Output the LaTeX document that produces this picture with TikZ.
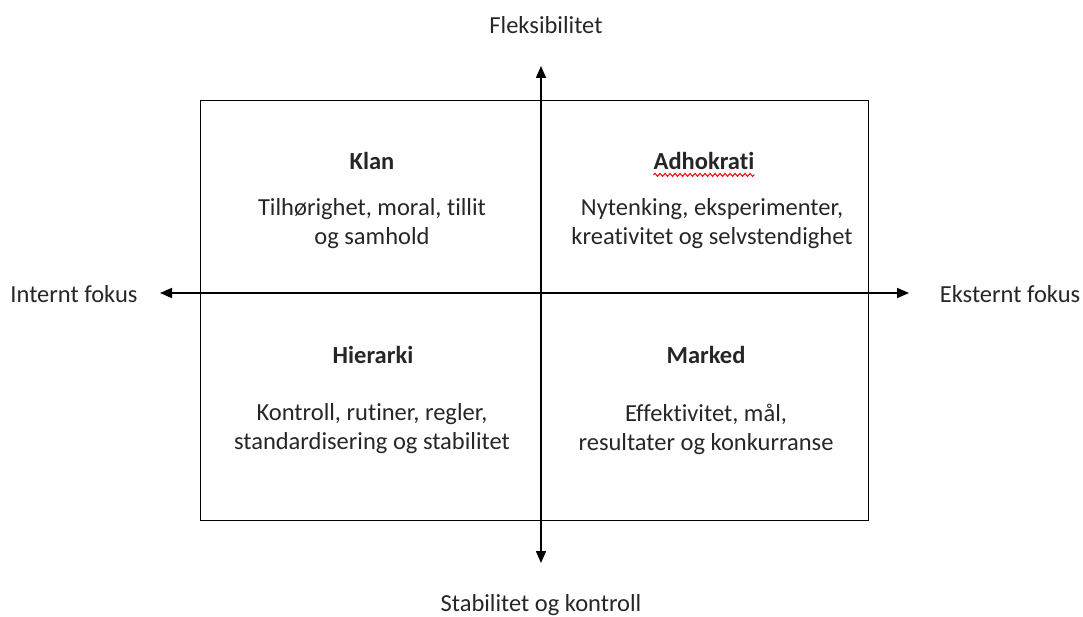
\documentclass[tikz,border=0pt]{standalone}
\usepackage{fontspec}
\setmainfont[Ligatures=NoCommon]{Carlito}
\usetikzlibrary{arrows.meta,decorations.pathmorphing}
\begin{document}
\begin{tikzpicture}[x=1pt,y=-1pt,
  lbl/.style={font=\fontsize{24.5}{29}\selectfont, inner sep=0pt, align=center, text=black!85},
  ttl/.style={lbl, font=\fontsize{24.5}{29}\selectfont\bfseries},
  axis/.style={line width=1.6pt, -{Triangle[length=12pt,width=10pt]}}]
\useasboundingbox (0,0) rectangle (1083,617);
\node[draw, line width=1.3pt, minimum width=668pt, minimum height=420pt, anchor=north west, inner sep=0pt] (box) at (200,100) {};
\coordinate (c) at (541,293);
\coordinate (top) at (541,66);
\coordinate (bot) at (541,563);
\coordinate (lft) at (160,293);
\coordinate (rgt) at (909,293);
\draw[axis] (c) -- (top);
\draw[axis] (c) -- (bot);
\draw[axis] (c) -- (lft);
\draw[axis] (c) -- (rgt);
\node[lbl] (flex) at (546,25) {Fleksibilitet};
\node[lbl] (stab) at (541,605) {Stabilitet og kontroll};
\node[lbl] (int) at (74,294) {Internt fokus};
\node[lbl] (ext) at (1010,294) {Eksternt fokus};
\node[ttl] (klan) at (372,161) {Klan};
\node[lbl] (klant) at (372,224) {Tilhørighet, moral, tillit\\og samhold};
\node[ttl] (adh) at (704,161) {Adhokrati};
\draw[red, line width=1pt, decorate, decoration={snake, amplitude=1.5pt, segment length=5pt}] ([yshift=-5pt]adh.south west) -- ([yshift=-5pt]adh.south east);
\node[lbl] (adht) at (712,224) {Nytenking, eksperimenter,\\kreativitet og selvstendighet};
\node[ttl] (hier) at (373,355) {Hierarki};
\node[lbl] (hiert) at (372,429) {Kontroll, rutiner, regler,\\standardisering og stabilitet};
\node[ttl] (mark) at (706,355) {Marked};
\node[lbl] (markt) at (706,429) {Effektivitet, mål,\\resultater og konkurranse};
\end{tikzpicture}
\end{document}
